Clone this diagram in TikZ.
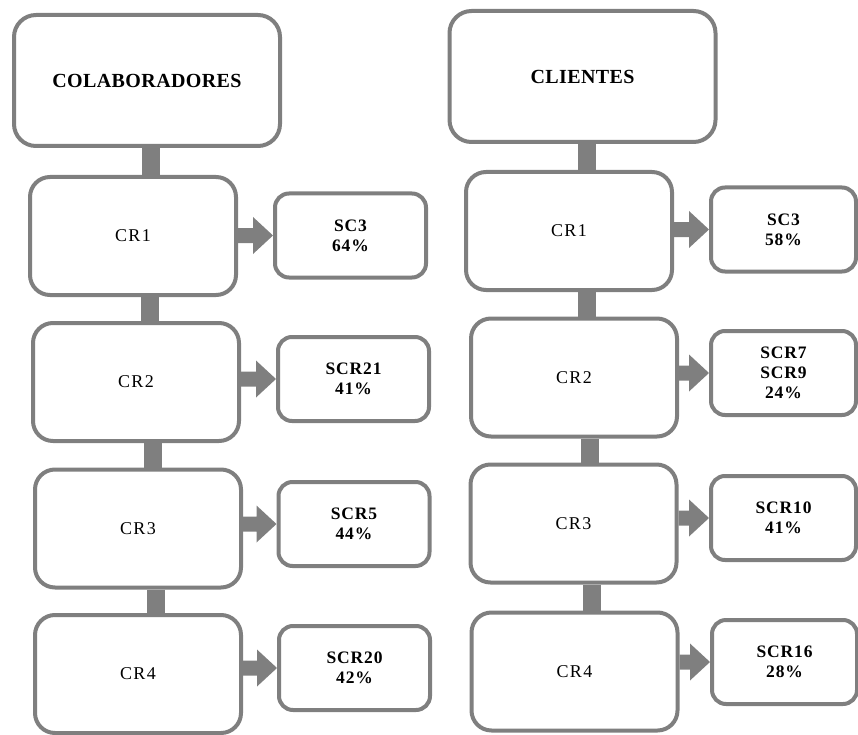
\documentclass[tikz,border=0pt]{standalone}
\usepackage{fontspec}
\setmainfont{Liberation Serif}
\usetikzlibrary{calc}
\definecolor{boxgray}{HTML}{7F7F7F}
\tikzset{
  box/.style={draw=boxgray, line width=4pt, fill=white, align=center, inner sep=0pt},
  titlebox/.style={box, rounded corners=22pt, minimum width=266pt, minimum height=131pt,
    font=\fontsize{20}{22}\selectfont\bfseries\addfontfeatures{LetterSpace=2}},
  crbox/.style={box, rounded corners=20pt, minimum width=206pt, minimum height=118pt,
    font=\fontsize{18}{20}\selectfont\addfontfeatures{LetterSpace=7}},
  scbox/.style={box, rounded corners=14pt, minimum width=151pt, minimum height=84pt,
    font=\fontsize{17.5}{20}\selectfont\bfseries\addfontfeatures{LetterSpace=5}},
  scboxr/.style={scbox, minimum width=145pt},
  stem/.style={draw=boxgray, line width=18pt},
  arrowfill/.style={fill=boxgray},
}
% block arrow from a CR box to its result box
\newcommand\blockarrow[2]{%
  \fill[arrowfill] ($(#1.east|-#2.west)+(0,7.5)$) -- ($(#2.west)+(-20,7.5)$)
    -- ($(#2.west)+(-20,18.5)$) -- (#2.west) -- ($(#2.west)+(-20,-18.5)$)
    -- ($(#2.west)+(-20,-7.5)$) -- ($(#1.east|-#2.west)+(0,-7.5)$) -- cycle;}
\begin{document}
\begin{tikzpicture}[x=1pt, y=-1pt]
\useasboundingbox (0,0) rectangle (858,735);

% left column
\node[titlebox] (colab) at (147,80.5) {COLABORADORES};
\node[crbox] (cl1) at (133,236) {CR1};
\node[crbox] (cl2) at (136,382) {CR2};
\node[crbox] (cl3) at (138,528.5) {CR3};
\node[crbox] (cl4) at (138,674) {CR4};
\node[scbox] (sl1) at (350.5,235.5) {SC3\\64\%};
\node[scbox] (sl2) at (353.5,379) {SCR21\\41\%};
\node[scbox] (sl3) at (354,524) {SCR5\\44\%};
\node[scbox] (sl4) at (354.5,668) {SCR20\\42\%};

% right column
\node[titlebox] (clien) at (582.5,76.5) {CLIENTES};
\node[crbox] (cr1) at (569,231) {CR1};
\node[crbox] (cr2) at (574,377.5) {CR2};
\node[crbox] (cr3) at (573.5,523.5) {CR3};
\node[crbox] (cr4) at (574.5,671.5) {CR4};
\node[scboxr] (sr1) at (783.5,229.5) {SC3\\58\%};
\node[scboxr] (sr2) at (783.5,373) {SCR7\\SCR9\\24\%};
\node[scboxr] (sr3) at (783.5,518) {SCR10\\41\%};
\node[scboxr] (sr4) at (784.5,662) {SCR16\\28\%};

% stem positions
\coordinate (xl1) at (151,0);
\coordinate (xl2) at (150,0);
\coordinate (xl3) at (153,0);
\coordinate (xl4) at (156,0);
\coordinate (xr1) at (587,0);
\coordinate (xr2) at (587,0);
\coordinate (xr3) at (590,0);
\coordinate (xr4) at (592,0);

% vertical stems
\draw[stem] (colab.south -| xl1) -- (cl1.north -| xl1);
\draw[stem] (cl1.south -| xl2) -- (cl2.north -| xl2);
\draw[stem] (cl2.south -| xl3) -- (cl3.north -| xl3);
\draw[stem] (cl3.south -| xl4) -- (cl4.north -| xl4);
\draw[stem] (clien.south -| xr1) -- (cr1.north -| xr1);
\draw[stem] (cr1.south -| xr2) -- (cr2.north -| xr2);
\draw[stem] (cr2.south -| xr3) -- (cr3.north -| xr3);
\draw[stem] (cr3.south -| xr4) -- (cr4.north -| xr4);

% block arrows
\blockarrow{cl1}{sl1}
\blockarrow{cl2}{sl2}
\blockarrow{cl3}{sl3}
\blockarrow{cl4}{sl4}
\blockarrow{cr1}{sr1}
\blockarrow{cr2}{sr2}
\blockarrow{cr3}{sr3}
\blockarrow{cr4}{sr4}
\end{tikzpicture}
\end{document}
